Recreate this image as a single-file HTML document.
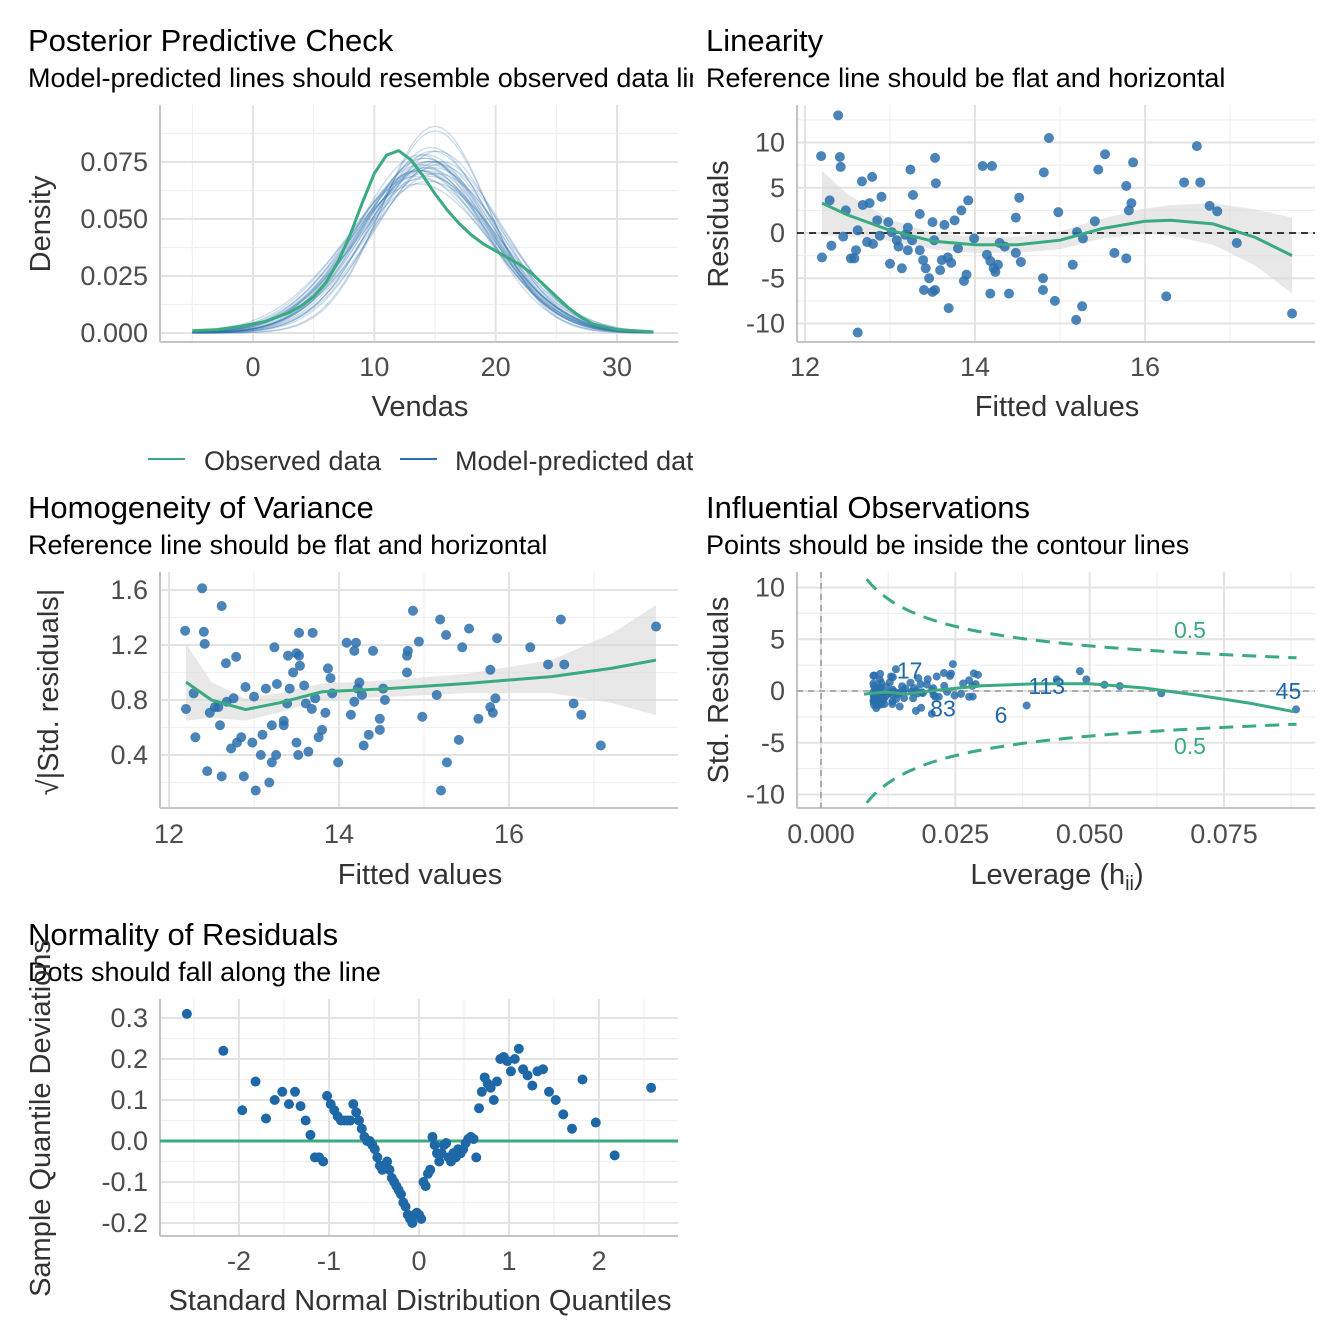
<!DOCTYPE html>
<html><head><meta charset="utf-8"><style>
html,body{margin:0;padding:0;background:#fff}
svg{display:block;font-family:"Liberation Sans",Arial,sans-serif}
</style></head><body>
<svg id="c" width="1344" height="1344" viewBox="0 0 1344 1344">
<defs>
<clipPath id="clipL"><rect x="0" y="0" width="693" height="1344"/></clipPath>
</defs>
<g id="g" clip-path="url(#clipL)"></g>
<g id="g2"></g>
</svg>
<script>
// ---------------- DATA ----------------
const fitted=[12.19,12.39,12.41,12.42,12.29,12.48,12.2,12.31,12.45,12.54,12.58,12.6,12.62,12.67,12.79,12.68,12.76,12.62,12.73,12.8,12.85,12.9,12.98,13.0,13.1,13.24,13.26,13.27,13.35,13.5,13.53,13.54,13.35,13.39,13.42,13.46,13.4,13.5,13.53,13.64,13.68,13.76,13.69,13.8,13.87,13.9,13.84,13.92,13.99,14.09,14.2,14.14,14.18,14.22,14.24,14.27,14.29,14.35,14.48,14.52,14.48,14.54,14.4,14.18,14.81,14.87,14.8,14.8,14.94,14.98,15.15,15.2,15.19,15.26,15.27,15.41,15.45,15.53,15.64,15.78,15.78,15.86,15.84,15.81,16.25,16.46,16.61,16.65,16.76,16.85,17.08,17.73,13.02,13.18,12.88,13.08,13.14,13.21,13.61,13.59,13.72,13.52,13.21];
const resid=[8.5,13,8.4,7.3,3.6,2.5,-2.7,-1.4,-0.4,-2.8,-2.8,-1.9,-11,5.7,6.2,3.1,3.3,0.3,-1.0,-1.2,1.4,4,1.2,-3.4,-1.5,7,-0.8,4.2,2.1,1.2,8.3,5.5,-1.9,-3,-3.9,-5,-6.3,-6.5,-6.3,0.9,-2.7,1.4,-8.3,-1.7,-5.3,-4.6,2.5,3.6,-0.6,7.4,7.4,-2.4,-3.1,-3.9,-4.3,-3.5,-1.1,-1.5,1.7,3.9,-2.2,-3.2,-6.7,-6.7,6.7,10.5,-5,-6.3,-7.5,2.3,-3.5,0.1,-9.6,-8.1,-0.6,1.3,7,8.7,-2.2,-2.8,5.2,7.8,3.3,2.5,-7,5.6,9.6,5.6,3,2.4,-1.1,-8.9,0.1,-0.2,-0.3,-0.8,-3.9,-1.9,-3,-4.1,-3.3,-0.8,0.6];
const sigma=5;
const obsX=[-5,-3,-1,0,1,2,3,4,5,6,7,8,9,10,11,12,13,14,15,16,17,18,19,20,21,22,23,24,25,26,27,28,30,33];
const obsY=[0.001,0.0015,0.003,0.004,0.005,0.007,0.009,0.012,0.016,0.022,0.031,0.043,0.057,0.07,0.078,0.08,0.076,0.069,0.061,0.054,0.048,0.043,0.039,0.036,0.033,0.03,0.026,0.021,0.016,0.011,0.007,0.004,0.0015,0.0005];
const predMean=[14.2,13.8,14.6,15.0,13.5,14.9,14.1,15.3,13.9,14.4,14.7,13.6,15.1,14.3,14.0,14.8,13.7,15.4,14.5,14.2,13.9,15.0,14.6,14.4,13.8,14.1,14.9,13.6,15.2,14.3];
const predSd=[5.6,5.4,5.3,4.5,5.8,5.5,5.2,5.4,5.9,5.3,4.9,5.6,5.7,5.1,5.5,5.0,5.6,5.3,6.0,5.2,5.6,4.4,5.4,5.8,5.1,5.7,5.3,6.1,5.0,5.5];
const linLoessX=[12.2,12.5,13,13.5,14,14.5,15,15.5,16,16.3,16.8,17.3,17.73];
const linLoessY=[3.3,2,0.3,-0.9,-1.3,-1.3,-0.8,0.5,1.3,1.4,1,-0.5,-2.5];
const linBand=[3.6,2.3,1.2,0.9,0.9,0.9,1,1.1,1.4,1.7,2.3,3.1,4.2];
const homLoessX=[12.2,12.5,12.9,13.3,13.8,14.5,15.5,16.5,17.2,17.73];
const homLoessY=[0.93,0.8,0.73,0.78,0.86,0.88,0.92,0.97,1.03,1.09];
const homBand=[0.28,0.13,0.08,0.07,0.06,0.06,0.07,0.12,0.25,0.4];
const infLoessX=[0.008,0.012,0.016,0.02,0.03,0.04,0.05,0.06,0.07,0.08,0.088];
const infLoessY=[-0.3,-0.1,-0.3,0,0.5,0.7,0.7,0.3,-0.4,-1.2,-2.0];
const infLabels=[["17",0.0165,2.0],["83",0.0227,-1.7],["6",0.0335,-2.3],["113",0.042,0.5],["45",0.087,0]];
const qqDev=[0.31,0.22,0.075,0.145,0.055,0.1,0.12,0.09,0.12,0.085,0.05,0.015,-0.04,-0.04,-0.05,0.11,0.09,0.075,0.06,0.05,0.05,0.05,0.05,0.09,0.07,0.05,0.03,0.01,0,0,-0.01,-0.02,-0.04,-0.06,-0.07,-0.06,-0.05,-0.07,-0.09,-0.1,-0.11,-0.12,-0.13,-0.15,-0.16,-0.18,-0.19,-0.2,-0.18,-0.175,-0.18,-0.19,-0.1,-0.11,-0.08,-0.07,0.01,-0.01,-0.03,-0.05,-0.03,-0.01,-0.005,-0.04,-0.05,-0.03,-0.04,-0.02,-0.03,-0.02,-0.005,0.005,0.01,0.005,-0.04,0.08,0.12,0.155,0.14,0.13,0.1,0.145,0.2,0.205,0.195,0.17,0.2,0.225,0.175,0.16,0.135,0.17,0.175,0.12,0.1,0.065,0.03,0.15,0.045,-0.035,0.13];

// ---------------- HELPERS ----------------
const NS="http://www.w3.org/2000/svg";
const G=document.getElementById('g'), G2=document.getElementById('g2');
function el(tag,attrs,parent,text){const e=document.createElementNS(NS,tag);for(const k in attrs)e.setAttribute(k,attrs[k]);if(text!==undefined)e.textContent=text;(parent||G).appendChild(e);return e;}
function lin(d0,p0,d1,p1){return v=>p0+(v-d0)*(p1-p0)/(d1-d0);}
function txt(x,y,s,size,opts,parent){const o=Object.assign({x:x,y:y,'font-size':size,fill:'#000'},opts||{});return el('text',o,parent,s);}
const TICKC='#4d4d4d';
const TICKF=27, AXF=29;
function frame(P,name,parent){
  const g=el('g',{},parent);
  
  
  P.xminor.forEach(v=>el('line',{x1:P.xs(v),x2:P.xs(v),y1:P.top,y2:P.bot,stroke:'#f0f0f0','stroke-width':1.2},g));
  P.yminor.forEach(v=>el('line',{x1:P.left,x2:P.right,y1:P.ys(v),y2:P.ys(v),stroke:'#f0f0f0','stroke-width':1.2},g));
  P.xmajor.forEach(v=>el('line',{x1:P.xs(v),x2:P.xs(v),y1:P.top,y2:P.bot,stroke:'#e3e3e3','stroke-width':2},g));
  P.ymajor.forEach(v=>el('line',{x1:P.left,x2:P.right,y1:P.ys(v),y2:P.ys(v),stroke:'#e3e3e3','stroke-width':2},g));
  el('line',{x1:P.left,x2:P.left,y1:P.top,y2:P.bot,stroke:'#c4c4c4','stroke-width':2},g);
  el('line',{x1:P.left,x2:P.right,y1:P.bot,y2:P.bot,stroke:'#c4c4c4','stroke-width':2},g);
  P.xmajor.forEach((v,i)=>{const t=txt(P.xs(v),P.xlabY,P.xlab[i],TICKF,{fill:TICKC,'text-anchor':'middle'},g);});
  P.ymajor.forEach((v,i)=>{const t=txt(P.left-12,P.ys(v)+9,P.ylab[i],TICKF,{fill:TICKC,'text-anchor':'end'},g);});
  return g;
}
function pathD(xs,ys,X,Y){return xs.map((v,i)=>(i?'L':'M')+X(v).toFixed(1)+','+Y(ys[i]).toFixed(1)).join('');}
function band(xs,ys,hw,X,Y){let d=xs.map((v,i)=>(i?'L':'M')+X(v)+','+Y(ys[i]+hw[i])).join('');for(let i=xs.length-1;i>=0;i--)d+='L'+X(xs[i])+','+Y(ys[i]-hw[i]);return d+'Z';}
function heading(x,y,t,s,parent){const a=txt(x,y,t,31,{},parent);const b=txt(x,y+36,s,27,{},parent);}
const GREEN='#3aaa80', BLUE='#2a6eab';

// ---------------- PANEL 1: PPC ----------------
(function(){
  const P={left:160,right:678,top:105,bot:342,xs:lin(0,253,30,617),ys:lin(0,333,0.075,162),
    xmajor:[0,10,20,30],xminor:[-5,5,15,25],ymajor:[0,0.025,0.05,0.075],yminor:[0.0125,0.0375,0.0625,0.0875],
    xlab:['0','10','20','30'],ylab:['0.000','0.025','0.050','0.075'],xlabY:376};
  const g=frame(P,'ppc');
  heading(28,51,'Posterior Predictive Check','Model-predicted lines should resemble observed data lines');
  for(let k=0;k<predMean.length;k++){
    const xs=[],ys=[];for(let x=-5;x<=33;x+=0.5){xs.push(x);ys.push(Math.exp(-0.5*Math.pow((x-predMean[k])/predSd[k],2))/(predSd[k]*Math.sqrt(2*Math.PI)));}
    const p=el('path',{d:pathD(xs,ys,P.xs,P.ys),fill:'none',stroke:BLUE,'stroke-opacity':0.25,'stroke-width':1.3},g);
    
    
  }
  const o=el('path',{d:pathD(obsX,obsY,P.xs,P.ys),fill:'none',stroke:GREEN,'stroke-width':3,'stroke-linejoin':'round'},g);
  
  
  txt(420,416,'Vendas',AXF,{'text-anchor':'middle','fill':'#333'});
  txt(0,0,'Density',AXF,{'text-anchor':'middle',fill:'#333',transform:'translate(50,224) rotate(-90)'});
  const lg=el('g',{});
  el('line',{x1:148,x2:185,y1:459,y2:459,stroke:GREEN,'stroke-width':2},lg);
  txt(204,470,'Observed data',27,{fill:'#333'},lg);
  el('line',{x1:400,x2:437,y1:459,y2:459,stroke:BLUE,'stroke-width':2},lg);
  txt(455,470,'Model-predicted data',27,{fill:'#333'},lg);
})();

// ---------------- PANEL 3: Homogeneity ----------------
(function(){
  const P={left:160,right:678,top:572,bot:808,xs:lin(12,169,16,509),ys:lin(1.6,590,0.4,755),
    xmajor:[12,14,16],xminor:[13,15,17],ymajor:[0.4,0.8,1.2,1.6],yminor:[0.2,0.6,1.0,1.4],
    xlab:['12','14','16'],ylab:['0.4','0.8','1.2','1.6'],xlabY:843};
  const g=frame(P,'homogeneity');
  heading(28,518,'Homogeneity of Variance','Reference line should be flat and horizontal');
  el('path',{d:band(homLoessX,homLoessY,homBand,P.xs,P.ys),fill:'#d9d9d9','fill-opacity':0.6},g);
  fitted.forEach((f,i)=>{const c=el('circle',{cx:P.xs(f),cy:P.ys(Math.sqrt(Math.abs(resid[i]/sigma))),r:5,fill:BLUE,'fill-opacity':0.85},g);
    });
  el('path',{d:pathD(homLoessX,homLoessY,P.xs,P.ys),fill:'none',stroke:GREEN,'stroke-width':3},g);
  txt(420,884,'Fitted values',AXF,{'text-anchor':'middle',fill:'#333'});
  txt(0,0,'√|Std. residuals|',AXF,{'text-anchor':'middle',fill:'#333',transform:'translate(58,692) rotate(-90)'});
})();

// ---------------- PANEL 5: Normality ----------------
function qnorm(p){const a=[-39.6968302866538,220.946098424521,-275.928510446969,138.357751867269,-30.6647980661472,2.50662827745924],b=[-54.4760987982241,161.585836858041,-155.698979859887,66.8013118877197,-13.2806815528857],c=[-7.78489400243029e-3,-0.322396458041136,-2.40075827716184,-2.54973253934373,4.37466414146497,2.93816398269878],d=[7.78469570904146e-3,0.32246712907004,2.445134137143,3.75440866190742];
  const pl=0.02425;let q,r;
  if(p<pl){q=Math.sqrt(-2*Math.log(p));return (((((c[0]*q+c[1])*q+c[2])*q+c[3])*q+c[4])*q+c[5])/((((d[0]*q+d[1])*q+d[2])*q+d[3])*q+1);}
  if(p>1-pl){q=Math.sqrt(-2*Math.log(1-p));return -(((((c[0]*q+c[1])*q+c[2])*q+c[3])*q+c[4])*q+c[5])/((((d[0]*q+d[1])*q+d[2])*q+d[3])*q+1);}
  q=p-0.5;r=q*q;return (((((a[0]*r+a[1])*r+a[2])*r+a[3])*r+a[4])*r+a[5])*q/(((((b[0]*r+b[1])*r+b[2])*r+b[3])*r+b[4])*r+1);}
(function(){
  const P={left:160,right:678,top:999,bot:1236,xs:lin(0,419,1,509),ys:lin(0,1141,0.1,1100),
    xmajor:[-2,-1,0,1,2],xminor:[-2.5,-1.5,-0.5,0.5,1.5,2.5],ymajor:[-0.2,-0.1,0,0.1,0.2,0.3],yminor:[-0.15,-0.05,0.05,0.15,0.25],
    xlab:['-2','-1','0','1','2'],ylab:['-0.2','-0.1','0.0','0.1','0.2','0.3'],xlabY:1270};
  const g=frame(P,'normality');
  heading(28,945,'Normality of Residuals','Dots should fall along the line');
  el('line',{x1:P.left,x2:P.right,y1:P.ys(0),y2:P.ys(0),stroke:GREEN,'stroke-width':3},g);
  const n=qqDev.length;
  qqDev.forEach((v,i)=>{const c=el('circle',{cx:P.xs(qnorm((i+0.5)/n)),cy:P.ys(v),r:5,fill:'#1f68a8'},g);
    });
  txt(420,1310,'Standard Normal Distribution Quantiles',AXF,{'text-anchor':'middle',fill:'#333'});
  txt(0,0,'Sample Quantile Deviations',AXF,{'text-anchor':'middle',fill:'#333',transform:'translate(50,1118) rotate(-90)'});
})();

// ---------------- PANEL 2: Linearity ----------------
(function(){
  const P={left:797,right:1315,top:105,bot:342,xs:lin(12,805,16,1145),ys:lin(0,233,10,142.5),
    xmajor:[12,14,16],xminor:[13,15,17],ymajor:[-10,-5,0,5,10],yminor:[-7.5,-2.5,2.5,7.5,12.5],
    xlab:['12','14','16'],ylab:['-10','-5','0','5','10'],xlabY:376};
  const g=frame(P,'linearity',G2);
  heading(706,51,'Linearity','Reference line should be flat and horizontal',G2);
  el('path',{d:band(linLoessX,linLoessY,linBand,P.xs,P.ys),fill:'#d9d9d9','fill-opacity':0.6},g);
  el('line',{x1:P.left,x2:P.right,y1:P.ys(0),y2:P.ys(0),stroke:'#000','stroke-width':1.6,'stroke-dasharray':'7,5'},g);
  fitted.forEach((f,i)=>{const c=el('circle',{cx:P.xs(f),cy:P.ys(resid[i]),r:5,fill:BLUE,'fill-opacity':0.85},g);
    });
  el('path',{d:pathD(linLoessX,linLoessY,P.xs,P.ys),fill:'none',stroke:GREEN,'stroke-width':3},g);
  txt(1057,416,'Fitted values',AXF,{'text-anchor':'middle',fill:'#333'},G2);
  txt(0,0,'Residuals',AXF,{'text-anchor':'middle',fill:'#333',transform:'translate(728,224) rotate(-90)'},G2);
})();

// ---------------- PANEL 4: Influential ----------------
(function(){
  const P={left:797,right:1315,top:572,bot:808,xs:lin(0,821,0.075,1224),ys:lin(0,691,10,587.5),
    xmajor:[0,0.025,0.05,0.075],xminor:[0.0125,0.0375,0.0625,0.0875],ymajor:[-10,-5,0,5,10],yminor:[-7.5,-2.5,2.5,7.5],
    xlab:['0.000','0.025','0.050','0.075'],ylab:['-10','-5','0','5','10'],xlabY:843};
  const g=frame(P,'influential',G2);
  heading(706,518,'Influential Observations','Points should be inside the contour lines',G2);
  el('line',{x1:P.xs(0),x2:P.xs(0),y1:P.top,y2:P.bot,stroke:'#999','stroke-width':1.5,'stroke-dasharray':'6,5'},g);
  el('line',{x1:P.left,x2:P.right,y1:P.ys(0),y2:P.ys(0),stroke:'#999','stroke-width':1.5,'stroke-dasharray':'6,5'},g);
  const n=fitted.length, m=fitted.reduce((a,b)=>a+b,0)/n;
  const sxx=fitted.reduce((a,b)=>a+(b-m)*(b-m),0)*1.07;
  const hs=[];for(let h=0.0085;h<=0.089;h+=0.001)hs.push(h);
  [1,-1].forEach(s=>{const ys=hs.map(h=>s*Math.sqrt((1-h)/h));
    const p=el('path',{d:pathD(hs,ys,P.xs,P.ys),fill:'none',stroke:GREEN,'stroke-width':3,'stroke-dasharray':'14,9'},g);
    });
  txt(1190,638,'0.5',23,{fill:GREEN,'text-anchor':'middle'},g);
  txt(1190,754,'0.5',23,{fill:GREEN,'text-anchor':'middle'},g);
  fitted.forEach((f,i)=>{const h=1/n+(f-m)*(f-m)/sxx;
    const c=el('circle',{cx:P.xs(h),cy:P.ys(resid[i]/sigma),r:4,fill:BLUE,'fill-opacity':0.85},g);
    });
  el('path',{d:pathD(infLoessX,infLoessY,P.xs,P.ys),fill:'none',stroke:GREEN,'stroke-width':3},g);
  infLabels.forEach(l=>{const t=txt(P.xs(l[1]),P.ys(l[2])+8,l[0],23,{fill:'#1f68a8','text-anchor':'middle'},g);
    });
  const xt=txt(1057,884,'Leverage (h',AXF,{'text-anchor':'middle',fill:'#333'},G2);
  
  el('tspan',{'font-size':20,dy:6},xt,'ii');
  el('tspan',{dy:-6},xt,')');
  txt(0,0,'Std. Residuals',AXF,{'text-anchor':'middle',fill:'#333',transform:'translate(728,690) rotate(-90)'},G2);
})();
</script>
</body></html>
